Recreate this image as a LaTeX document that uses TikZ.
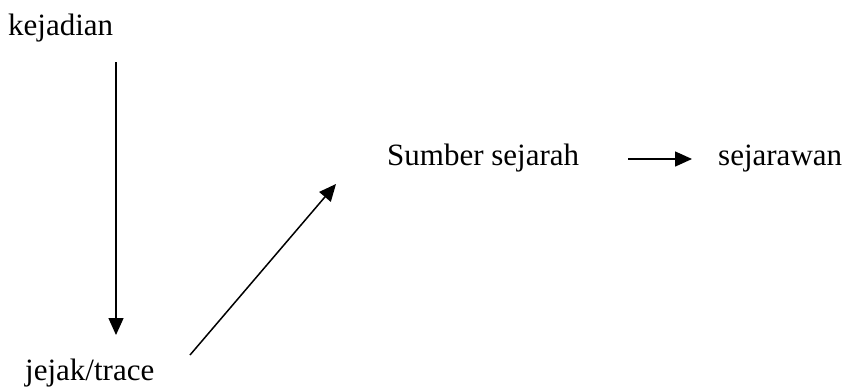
\documentclass[tikz,border=0pt]{standalone}
\usepackage{fontspec}
\setmainfont{Liberation Serif}
\usetikzlibrary{arrows.meta}
\begin{document}
\begin{tikzpicture}[x=1pt,y=-1pt,
  lbl/.style={anchor=base west,inner sep=0pt,font=\fontsize{31}{36}\selectfont},
  conn/.style={line width=1.5pt,-{Triangle[length=17pt,width=15pt]}}]
\useasboundingbox (0,0) rectangle (854,388);
\node[lbl] (kej) at (8,35) {kejadian};
\node[lbl] (jej) at (25,380) {jejak/trace};
\node[lbl] (sum) at (387,165) {Sumber sejarah};
\node[lbl] (sjw) at (718,165) {sejarawan};
\coordinate (a1) at (116,62);
\coordinate (a2) at (116,335);
\coordinate (b1) at (190,355);
\coordinate (b2) at (336,184);
\coordinate (c1) at (628,159);
\coordinate (c2) at (692,159);
\draw[conn] (a1) -- (a2);
\draw[conn] (b1) -- (b2);
\draw[conn] (c1) -- (c2);
\end{tikzpicture}
\end{document}
